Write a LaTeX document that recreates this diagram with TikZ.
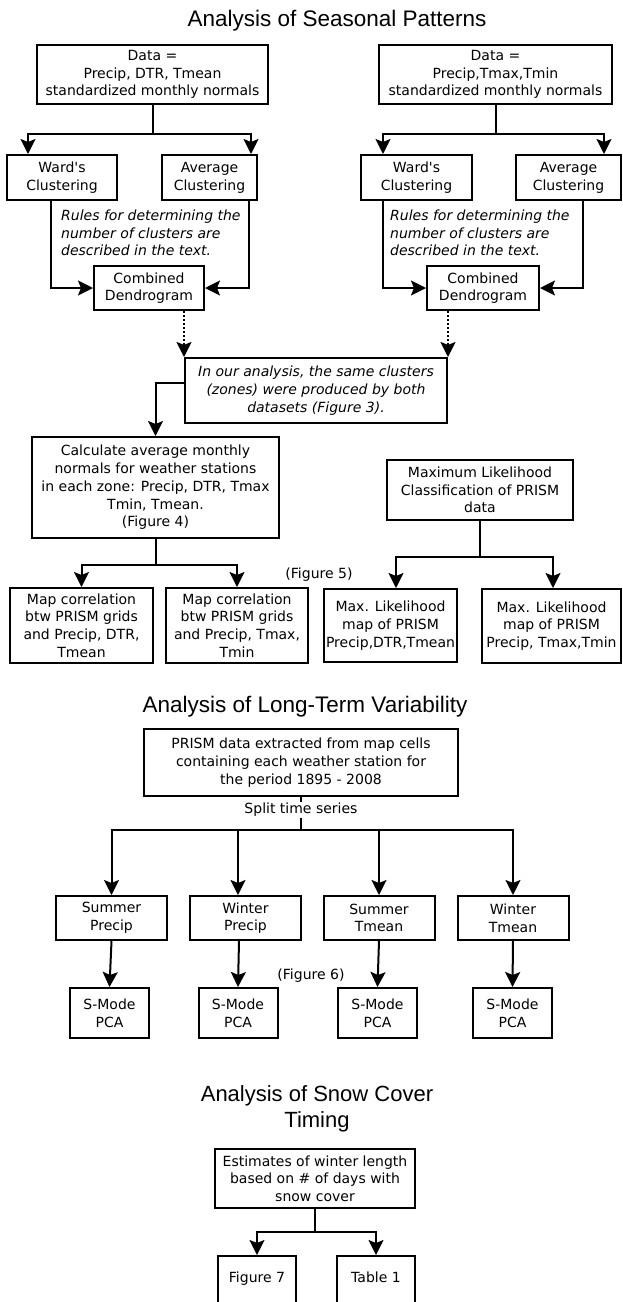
\documentclass[tikz,border=0pt]{standalone}
\usepackage{fontspec}
\setmainfont{DejaVu Sans}
\newfontfamily\headfont{Liberation Sans}
\usetikzlibrary{arrows.meta, positioning}
\tikzstyle{link} = [line width=2pt]
\tikzstyle{arrow} = [link, -{Stealth[length=15pt,width=15pt,inset=3pt]}]
\tikzstyle{dotarrow} = [arrow, dotted]
\tikzstyle{box} = [draw=black, line width=2pt, rectangle, align=center, inner sep=1pt]
\tikzstyle{rowbox} = [box, minimum width=111pt, minimum height=44pt]
\tikzstyle{pcabox} = [box, minimum width=79pt, minimum height=50pt]
\tikzstyle{openbox} = [draw=black, line width=2pt, rectangle, anchor=north, inner ysep=3pt, minimum width=78pt, text height=23pt, text depth=70pt]
\tikzstyle{remark} = [align=left, inner sep=0pt, font=\itshape\fontsize{14}{17.7}\selectfont]
\tikzstyle{heading} = [align=center, inner sep=0pt]

\begin{document}
\begin{tikzpicture}[x=1pt,y=-1pt,font=\fontsize{14}{17.7}\selectfont]
    \useasboundingbox (0,0) rectangle (623,1302);
    \clip (0,0) rectangle (623,1302);

    % seasonal patterns
    \node[heading, font=\headfont\fontsize{22.5}{27}\selectfont] (title1) at (337,21) {Analysis of Seasonal Patterns};
    \node[box, minimum width=231pt, minimum height=59pt] (data1) at (152.5,74.5) {Data =\\Precip, DTR, Tmean\\standardized monthly normals};
    \node[box, minimum width=233pt, minimum height=59pt] (data2) at (495.5,74.5) {Data =\\Precip,Tmax,Tmin\\standardized monthly normals};
    \node[box, minimum width=110pt, minimum height=45pt] (ward1) at (62,177.5) {Ward\textquotesingle s\\Clustering};
    \node[box, minimum width=95pt, minimum height=45pt] (avg1) at (209.5,177.5) {Average\\Clustering};
    \node[box, minimum width=111pt, minimum height=45pt] (ward2) at (416.5,177.5) {Ward\textquotesingle s\\Clustering};
    \node[box, minimum width=105pt, minimum height=45pt] (avg2) at (568.5,177.5) {Average\\Clustering};
    \node[remark, anchor=west] (rules1) at (61,233) {Rules for determining the\\number of clusters are\\described in the text.};
    \node[remark, anchor=west] (rules2) at (390,233) {Rules for determining the\\number of clusters are\\described in the text.};
    \node[box, minimum width=110pt, minimum height=44pt] (comb1) at (149,288) {Combined\\Dendrogram};
    \node[box, minimum width=112pt, minimum height=44pt] (comb2) at (483,288) {Combined\\Dendrogram};
    \node[box, font=\itshape\fontsize{14}{17.7}\selectfont, minimum width=262pt, minimum height=65pt] (same) at (316,390.5) {In our analysis, the same clusters\\(zones) were produced by both\\datasets (Figure 3).};
    \node[box, minimum width=247pt, minimum height=101pt] (calc) at (155.5,487.5) {Calculate average monthly\\normals for weather stations\\in each zone: Precip, DTR, Tmax\\Tmin, Tmean.\\(Figure 4)};
    \node[box, minimum width=186pt, minimum height=60pt] (mlc) at (480,490) {Maximum Likelihood\\Classification of PRISM\\data};
    \node (fig5) at (319,575) {(Figure 5)};
    \node[box, minimum width=143pt, minimum height=75pt] (map1) at (81.5,625.5) {Map correlation\\btw PRISM grids\\and Precip, DTR,\\Tmean};
    \node[box, minimum width=142pt, minimum height=75pt] (map2) at (237,625.5) {Map correlation\\btw PRISM grids\\and Precip, Tmax,\\Tmin};
    \node[box, minimum width=133pt, minimum height=73pt] (mlm1) at (390.5,625.5) {Max. Likelihood\\map of PRISM\\Precip,DTR,Tmean};
    \node[box, minimum width=139pt, minimum height=74pt] (mlm2) at (551.5,626) {Max. Likelihood\\map of PRISM\\Precip, Tmax,Tmin};

    \draw[arrow] (data1.south) -- ++(0,29) -| ([xshift=-34pt]ward1.north);
    \draw[arrow] (data1.south) -- ++(0,29) -| ([xshift=41.5pt]avg1.north);
    \draw[arrow] (data2.south) -- ++(0,29) -| ([xshift=-33.5pt]ward2.north);
    \draw[arrow] (data2.south) -- ++(0,29) -| ([xshift=35.5pt]avg2.north);
    \draw[arrow] ([xshift=-11pt]ward1.south) |- (comb1.west);
    \draw[arrow] ([xshift=39.5pt]avg1.south) |- (comb1.east);
    \draw[arrow] ([xshift=-33.5pt]ward2.south) |- (comb2.west);
    \draw[arrow] ([xshift=14.5pt]avg2.south) |- (comb2.east);
    \draw[dotarrow] (comb1.south -| same.north west) -- (same.north west);
    \draw[dotarrow] (comb2.south -| same.north east) -- (same.north east);
    \draw[arrow] ([yshift=7.5pt]same.west) -| (calc.north);
    \draw[arrow] (calc.south) -- ++(0,26) -| (map1.north);
    \draw[arrow] (calc.south) -- ++(0,26) -| (map2.north);
    \draw[arrow] (mlc.south) -- ++(0,36) -| ([xshift=5.5pt]mlm1.north);
    \draw[arrow] (mlc.south) -- ++(0,36) -| ([xshift=1.5pt]mlm2.north);

    % long-term variability
    \node[heading, font=\headfont\fontsize{22.5}{27}\selectfont] (title2) at (305,707) {Analysis of Long-Term Variability};
    \node[box, minimum width=314pt, minimum height=67pt] (prism) at (301,762.5) {PRISM data extracted from map cells\\containing each weather station for\\the period 1895 - 2008};
    \node[inner sep=1pt] (split) at (301,810) {Split time series};
    \coordinate (fork) at (301,830);
    \node[rowbox] (sp) at (111.5,918) {Summer\\Precip};
    \node[rowbox] (wp) at (245.5,918) {Winter\\Precip};
    \node[rowbox] (st) at (379,918) {Summer\\Tmean};
    \node[rowbox] (wt) at (513,918) {Winter\\Tmean};
    \node[pcabox, below of=sp, node distance=95pt, xshift=-2pt] (pca1) {S-Mode\\PCA};
    \node[pcabox, below of=wp, node distance=95pt, xshift=-7.5pt] (pca2) {S-Mode\\PCA};
    \node[pcabox, below of=st, node distance=95pt, xshift=-1.5pt] (pca3) {S-Mode\\PCA};
    \node[pcabox, below of=wt, node distance=95pt, xshift=-0.5pt] (pca4) {S-Mode\\PCA};
    \node (fig6) at (311,976) {(Figure 6)};

    \draw[link] (prism.south) -- (split.north);
    \draw[link] (split.south) -- (fork);
    \draw[arrow] (fork) -| (sp.north);
    \draw[arrow] (fork) -| (wt.north);
    \draw[arrow] ([xshift=-7.5pt]wp.north |- fork) -- ([xshift=-7.5pt]wp.north);
    \draw[arrow] (st.north |- fork) -- (st.north);
    \draw[arrow] (sp.south) -- (pca1.north);
    \draw[arrow] ([xshift=-6.5pt]wp.south) -- (pca2.north);
    \draw[arrow] (st.south) -- (pca3.north);
    \draw[arrow] (wt.south) -- (pca4.north);

    % snow cover timing
    \node[heading, font=\headfont\fontsize{22}{25.5}\selectfont] (title3) at (317,1109) {Analysis of Snow Cover\\Timing};
    \node[box, minimum width=200pt, minimum height=59pt] (est) at (315,1178.5) {Estimates of winter length\\based on \# of days with\\snow cover};
    \node[openbox] (fig7) at (257,1255) {Figure 7};
    \node[openbox] (tab1) at (376,1255) {Table 1};

    \draw[arrow] (est.south) -- ++(0,23) -| (fig7.north);
    \draw[arrow] (est.south) -- ++(0,23) -| (tab1.north);
\end{tikzpicture}
\end{document}
